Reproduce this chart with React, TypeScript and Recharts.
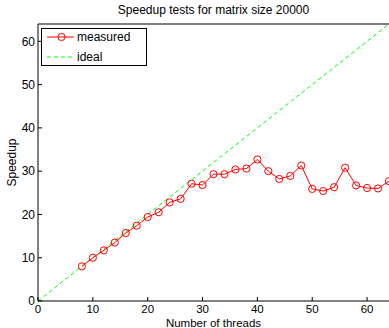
import React from 'react';
import { LineChart, Line, XAxis, YAxis } from 'recharts';

const threads = [8, 10, 12, 14, 16, 18, 20, 22, 24, 26, 28, 30, 32, 34, 36, 38, 40, 42, 44, 46, 48, 50, 52, 54, 56, 58, 60, 62, 64];
const measuredSpeedup = [8.0, 10.0, 11.7, 13.5, 15.7, 17.4, 19.4, 20.5, 22.8, 23.6, 27.1, 26.8, 29.3, 29.3, 30.4, 30.6, 32.7, 30.0, 28.2, 28.9, 31.3, 25.9, 25.4, 26.3, 30.8, 26.7, 26.1, 26.0, 27.7];
const idealThreads = [0, 64];
const idealSpeedup = [0, 64];
const xTicks = [0, 10, 20, 30, 40, 50, 60];
const yTicks = [0, 10, 20, 30, 40, 50, 60];

const measuredData = threads.map((t, i) => ({ x: t, y: measuredSpeedup[i] }));
const idealData = idealThreads.map((t, i) => ({ x: t, y: idealSpeedup[i] }));

const FONT = 'Liberation Sans, Arial, Helvetica, sans-serif';
const tickStyle = { fontSize: 12, fill: '#000', fontFamily: FONT };
const xTickStyle = { fontSize: 11.5, fill: '#000', fontFamily: FONT };

export default function App() {
  return (
    <div style={{ position: 'absolute', left: 0, top: 0, width: 389, height: 328, background: '#fff', fontFamily: FONT }}>
      <div style={{ position: 'absolute', left: 0, top: 4, width: 427, textAlign: 'center', fontSize: 12, lineHeight: '12px', color: '#000' }}>
        Speedup tests for matrix size 20000
      </div>
      <LineChart width={389} height={328} margin={{ top: 0, right: 0, bottom: 0, left: 0 }} style={{ position: 'absolute', left: 0, top: 0 }}>
        <XAxis
          xAxisId="bottom"
          dataKey="x"
          type="number"
          domain={[0, 64]}
          ticks={xTicks}
          orientation="bottom"
          height={27}
          tickSize={-4}
          tickMargin={7.5}
          tick={xTickStyle}
          stroke="#000"
          axisLine={{ stroke: '#000' }}
          tickLine={{ stroke: '#000' }}
          allowDataOverflow
          label={{ value: 'Number of threads', position: 'insideBottom', offset: 1.5, style: { fontSize: 11.5, fill: '#000', fontFamily: FONT } }}
        />
        <XAxis
          xAxisId="top"
          dataKey="x"
          type="number"
          domain={[0, 64]}
          ticks={xTicks}
          orientation="top"
          height={24}
          tickSize={-4}
          tick={false}
          stroke="#000"
          allowDataOverflow
        />
        <YAxis
          yAxisId="left"
          type="number"
          domain={[0, 64]}
          ticks={yTicks}
          orientation="left"
          width={38}
          tickSize={-4}
          tickMargin={7}
          tick={tickStyle}
          stroke="#000"
          allowDataOverflow
          label={{ value: 'Speedup', angle: -90, position: 'insideLeft', offset: 12, style: { textAnchor: 'middle', fontSize: 12, fill: '#000', fontFamily: FONT } }}
        />
        <YAxis
          yAxisId="right"
          type="number"
          domain={[0, 64]}
          ticks={yTicks}
          orientation="right"
          width={0}
          tickSize={-4}
          tick={false}
          stroke="#000"
          allowDataOverflow
        />
        <Line
          xAxisId="bottom"
          yAxisId="left"
          data={idealData}
          dataKey="y"
          stroke="#00ff00"
          strokeWidth={1}
          strokeDasharray="4 3"
          dot={false}
          activeDot={false}
          isAnimationActive={false}
          type="linear"
        />
        <Line
          xAxisId="bottom"
          yAxisId="left"
          data={measuredData}
          dataKey="y"
          stroke="#ff0000"
          strokeWidth={1}
          dot={{ r: 3.6, stroke: '#ff0000', strokeWidth: 1, fill: 'none' }}
          activeDot={false}
          isAnimationActive={false}
          type="linear"
        />
      </LineChart>
      <div style={{ position: 'absolute', left: 41, top: 28, width: 104, height: 36, border: '1px solid #000', background: '#fff', fontSize: 12, color: '#000' }}>
        <svg width={40} height={40} style={{ position: 'absolute', left: 0, top: 0 }}>
          <line x1={5} y1={8} x2={32} y2={8} stroke="#ff0000" strokeWidth={1} />
          <circle cx={19.5} cy={8} r={3.6} stroke="#ff0000" strokeWidth={1} fill="none" />
          <line x1={5} y1={28} x2={32} y2={28} stroke="#00ff00" strokeWidth={1} strokeDasharray="4 3" />
        </svg>
        <div style={{ position: 'absolute', left: 35, top: 1, lineHeight: '14px' }}>measured</div>
        <div style={{ position: 'absolute', left: 35, top: 21, lineHeight: '14px' }}>ideal</div>
      </div>
    </div>
  );
}
